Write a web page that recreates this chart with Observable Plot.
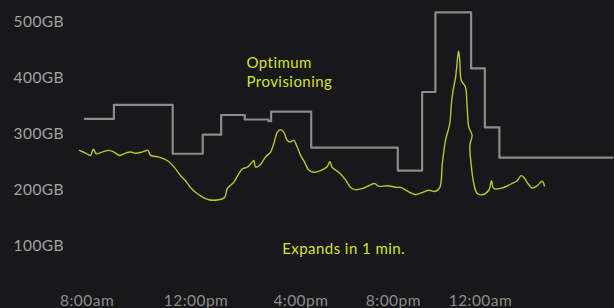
<!DOCTYPE html>
<html><head><meta charset="utf-8">
<script src="https://cdn.jsdelivr.net/npm/d3@7"></script>
<script src="https://cdn.jsdelivr.net/npm/@observablehq/plot@0.6"></script>
<style>
html,body{margin:0;padding:0;background:#18181a;overflow:hidden;}
svg text{letter-spacing:0.45px;}
</style></head><body><div id="chart"></div>
<script>
// Provisioned capacity (step line), hours since midnight of day 1 → GB
const provHours = [7.91, 9.09, 11.48, 12.70, 13.45, 14.41, 15.37, 15.48, 17.11, 20.63, 21.62, 22.16, 23.61, 24.17, 24.76, 29.36];
const provGB    = [327, 352, 265, 299, 334, 326, 323, 340, 276, 235, 375, 517, 417, 312, 258, 258];

// Actual usage (yellow line)
const usageHours = [7.69, 7.94, 8.14, 8.25, 8.38, 8.61, 8.88, 9.09, 9.33, 9.56, 9.76, 9.97, 10.24, 10.47, 10.58, 10.92, 11.26, 11.52, 11.80, 12.00, 12.20, 12.54, 12.95, 13.35, 13.59, 13.70, 13.96, 14.11, 14.31, 14.51, 14.71, 14.78, 14.85, 15.05, 15.25, 15.46, 15.59, 15.73, 15.86, 16.00, 16.13, 16.27, 16.40, 16.54, 16.68, 16.84, 17.01, 17.22, 17.49, 17.76, 17.87, 17.96, 18.23, 18.50, 18.71, 18.91, 19.18, 19.45, 19.68, 19.86, 20.20, 20.61, 20.74, 21.08, 21.35, 21.69, 21.89, 22.16, 22.34, 22.44, 22.57, 22.74, 22.81, 22.88, 22.98, 23.05, 23.10, 23.15, 23.21, 23.38, 23.45, 23.52, 23.65, 23.56, 23.61, 23.72, 23.86, 24.06, 24.33, 24.44, 24.53, 24.87, 25.28, 25.48, 25.65, 25.75, 25.92, 26.09, 26.30, 26.50, 26.59];
const usageGB    = [271, 266, 262, 273, 265, 268, 271, 268, 262, 266, 268, 266, 268, 271, 262, 259, 253, 242, 226, 217, 205, 192, 183, 183, 187, 203, 214, 225, 238, 241, 250, 253, 241, 246, 259, 268, 283, 303, 308, 303, 289, 286, 289, 277, 262, 250, 236, 232, 235, 242, 251, 241, 232, 219, 205, 201, 203, 208, 212, 207, 208, 205, 205, 197, 192, 197, 200, 198, 205, 247, 289, 318, 354, 378, 401, 431, 448, 431, 396, 384, 348, 312, 298, 280, 247, 212, 194, 192, 200, 217, 203, 204, 212, 217, 226, 223, 212, 204, 208, 216, 208];

const yTicks = [100, 200, 300, 400, 500];
const xTickHours  = [8.00, 12.43, 16.69, 20.45, 23.99];
const xTickLabels = ["8:00am", "12:00pm", "4:00pm", "8:00pm", "12:00am"];

const noteText  = ["Optimum\nProvisioning", "Expands in 1 min."];
const noteHours = [14.48, 15.93];
const noteGB    = [412, 97.5];

const prov = provHours.map((h, i) => ({h, gb: provGB[i]}));
const usage = usageHours.map((h, i) => ({h, gb: usageGB[i]}));
const notes = noteText.map((t, i) => ({t, h: noteHours[i], gb: noteGB[i]}));

const chart = Plot.plot({
  width: 614,
  height: 308,
  marginLeft: 62,
  marginRight: 0,
  marginTop: 0,
  marginBottom: 6,
  style: {background: "#18181a", fontFamily: "Lato, 'Open Sans', sans-serif", fontSize: "15px", overflow: "visible"},
  x: {domain: [7, 29.44]},
  y: {domain: [0, 538]},
  marks: [
    Plot.line(prov, {x: "h", y: "gb", curve: "step-after", stroke: "#8b8b8b", strokeWidth: 2.2}),
    Plot.line(usage, {x: "h", y: "gb", curve: "catmull-rom", stroke: "#bac62b", strokeWidth: 1.4}),
    Plot.axisY(yTicks, {tickSize: 0, tickPadding: 0, textAnchor: "middle", dx: -23.7, label: null,
      tickFormat: d => d + "GB", color: "#a2a2a2", fontSize: 15.5}),
    Plot.axisX(xTickHours, {tickSize: 0, tickPadding: 0, lineAnchor: "middle", dy: -1.5, label: null,
      tickFormat: d => xTickLabels[xTickHours.indexOf(d)], color: "#8c8c8c", fontSize: 15.5}),
    Plot.text(notes, {x: "h", y: "gb", text: "t", textAnchor: "start", lineAnchor: "middle",
      fill: "#d6e12b", fontSize: 15, lineHeight: 1.27})
  ]
});
document.getElementById("chart").appendChild(chart);
</script>
</body></html>
